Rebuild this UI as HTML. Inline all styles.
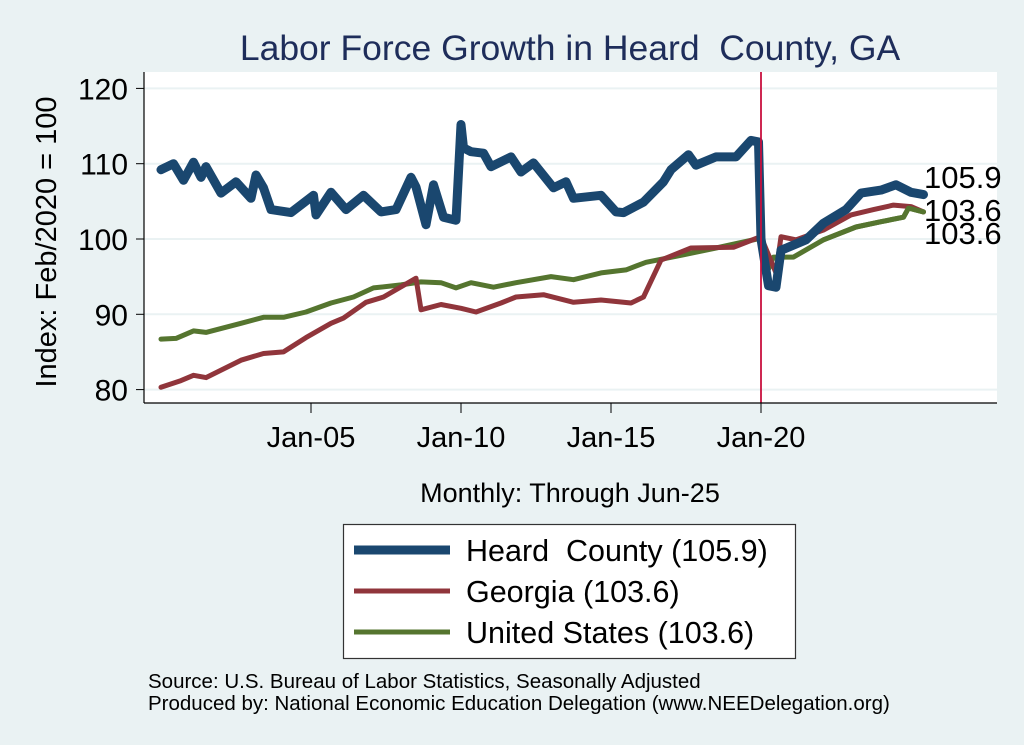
<!DOCTYPE html>
<html><head><meta charset="utf-8"><style>
html,body{margin:0;padding:0;background:#eaf2f3;}
svg{display:block;font-family:"Liberation Sans",Arial,sans-serif;}
</style></head><body>
<svg id="chart" width="1024" height="745" viewBox="0 0 1024 745" xmlns="http://www.w3.org/2000/svg">
<rect x="0" y="0" width="1024" height="745" fill="#eaf2f3"/>
<text x="570" y="60" text-anchor="middle" font-size="35.5" fill="#1e2d5a">Labor Force Growth in Heard&#160; County, GA</text>
<rect x="144" y="72" width="853" height="331" fill="#ffffff"/>
<g id="grid"></g>
<g id="series"></g>
<g id="axes"></g>
<text transform="translate(56,242) rotate(-90)" text-anchor="middle" font-size="29" fill="#000">Index: Feb/2020 = 100</text>
<text x="570" y="502" text-anchor="middle" font-size="27" fill="#000">Monthly: Through Jun-25</text>
<g>
<rect x="343.5" y="524.5" width="452" height="134" fill="#fff" stroke="#333" stroke-width="1.2"/>
<line x1="354" y1="550" x2="450" y2="550" stroke="#1a476f" stroke-width="9"/>
<text x="466" y="561" font-size="30.5" fill="#000">Heard&#160; County (105.9)</text>
<line x1="354" y1="591" x2="450" y2="591" stroke="#90353b" stroke-width="5"/>
<text x="466" y="602" font-size="30.5" fill="#000">Georgia (103.6)</text>
<line x1="354" y1="632" x2="450" y2="632" stroke="#55752f" stroke-width="5"/>
<text x="466" y="643" font-size="30.5" fill="#000">United States (103.6)</text>
</g>
<text x="148" y="688" font-size="20.5" fill="#000">Source: U.S. Bureau of Labor Statistics, Seasonally Adjusted</text>
<text x="148" y="710" font-size="20.5" fill="#000">Produced by: National Economic Education Delegation (www.NEEDelegation.org)</text>
</svg>
<script>
// months since Jan-2000
const heardMonths=[0,5,9,13,16,18,24,30,36,38,41,44,52,61,62,68,74,81,88,94,100,102,106,109,113,118,120,121,124,129,132,140,144,149,157,162,165,176,182,185,193,201,204,211,214,222,230,236,239,240,243,246,248,258,265,274,280,288,294,300,305];
const heardValues=[109.2,110,107.8,110.2,108.2,109.6,106.1,107.6,105.4,108.5,106.8,103.9,103.5,105.8,103.2,106.2,103.9,105.8,103.6,103.9,108.2,106.9,101.9,107.2,102.9,102.5,115.2,112.1,111.6,111.4,109.6,110.9,108.9,110.1,106.8,107.6,105.4,105.8,103.6,103.5,104.9,107.6,109.2,111.2,109.8,110.9,110.9,113.1,112.9,100,93.8,93.6,98.5,99.9,102.1,103.9,106.1,106.5,107.2,106.2,105.9];
const gaMonths=[0,8,13,18,32,41,49,58,68,73,82,89,102,104,112,120,126,136,142,153,165,176,188,193,200,212,229,239,241,246,248,254,265,276,285,293,300,305];
const gaValues=[80.3,81.2,81.9,81.6,83.9,84.8,85,86.9,88.8,89.5,91.6,92.3,94.8,90.6,91.3,90.8,90.3,91.5,92.3,92.6,91.6,91.9,91.5,92.3,97.2,98.8,98.9,100.2,99.5,95.5,100.3,99.9,101.2,103.2,103.9,104.5,104.3,103.6];
const usMonths=[0,6,13,18,32,41,49,58,68,77,85,96,104,112,118,124,133,142,156,165,176,186,194,209,222,233,240,242,245,253,265,278,288,297,299,305];
const usValues=[86.7,86.8,87.8,87.6,88.8,89.6,89.6,90.3,91.5,92.3,93.5,93.9,94.3,94.2,93.5,94.2,93.6,94.2,95,94.6,95.5,95.9,96.9,97.9,98.8,99.6,100.1,95.2,97.6,97.6,99.9,101.6,102.3,102.9,104.1,103.6];
const yTicks=[80,90,100,110,120];
const xTickMonths=[60,120,180,240];
const xTickLabels=["Jan-05","Jan-10","Jan-15","Jan-20"];
const endLabels=["105.9","103.6","103.6"];

const NS="http://www.w3.org/2000/svg";
const xpos=m=>161+2.5*m;
const ypos=v=>239-(v-100)*7.53;
function mk(tag,attrs,parent){const e=document.createElementNS(NS,tag);for(const k in attrs)e.setAttribute(k,attrs[k]);parent.appendChild(e);return e;}
const grid=document.getElementById('grid'),axes=document.getElementById('axes'),ser=document.getElementById('series');
yTicks.forEach(v=>{
  const g=mk('line',{x1:144,x2:997,y1:ypos(v),y2:ypos(v),stroke:'#eaf2f3','stroke-width':2},grid);
  
  
  const t=mk('line',{x1:136,x2:144,y1:ypos(v),y2:ypos(v),stroke:'#000','stroke-width':1},axes);
  
  
  const l=mk('text',{x:128,y:ypos(v)+11,'text-anchor':'end','font-size':30,fill:'#000'},axes);
  l.textContent=String(v);
  
  
});
xTickMonths.forEach((m,i)=>{
  const t=mk('line',{x1:xpos(m),x2:xpos(m),y1:403,y2:413,stroke:'#000','stroke-width':1},axes);
  
  
  const l=mk('text',{x:xpos(m),y:447,'text-anchor':'middle','font-size':29,fill:'#000'},axes);
  l.textContent=xTickLabels[i];
  
  
});
const ya=mk('line',{x1:144,x2:144,y1:72,y2:403,stroke:'#000','stroke-width':1.2},axes);


const xa=mk('line',{x1:144,x2:997,y1:403,y2:403,stroke:'#000','stroke-width':1.2},axes);


function line(ms,vs,color,w,name){
  const d=ms.map((m,i)=>(i?'L':'M')+xpos(m).toFixed(1)+','+ypos(vs[i]).toFixed(1)).join(' ');
  const p=mk('path',{d:d,fill:'none',stroke:color,'stroke-width':w,'stroke-linejoin':'round','stroke-linecap':'round'},ser);
  
  
}
line(usMonths,usValues,'#55752f',5,'us-line');
line(gaMonths,gaValues,'#90353b',5,'georgia-line');
line(heardMonths,heardValues,'#1a476f',9,'heard-county-line');
line(usMonths.slice(-6),usValues.slice(-6),'#55752f',5,'us-line-recent');
const vl=mk('line',{x1:xpos(240),x2:xpos(240),y1:72,y2:403,stroke:'#c8103e','stroke-width':1.8},ser);


const labY=[187,220,243];
endLabels.forEach((s,i)=>{
  const t=mk('text',{x:924,y:labY[i]+1,'font-size':31,fill:'#000'},ser);
  t.textContent=s;
  
  
});
</script>
</body></html>
